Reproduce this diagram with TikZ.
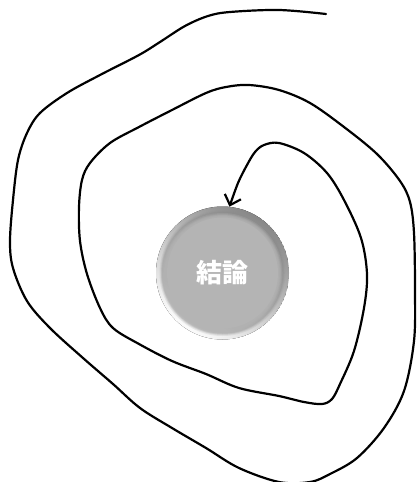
\documentclass[tikz,border=0pt]{standalone}
\usepackage{fontspec}
\newfontfamily\cjk{Noto Sans CJK JP}
\usetikzlibrary{arrows.meta}
\definecolor{ballgray}{RGB}{180,180,180}
\definecolor{rimdark}{RGB}{135,135,135}
\definecolor{rimlight}{RGB}{252,252,252}
\definecolor{rimring}{RGB}{140,140,140}
\tikzset{
  spiral/.style={line width=2.2pt, line cap=round, line join=round,
    -{Straight Barb[length=9pt,width=17pt]}},
  ball/.style={circle, minimum size=133pt, inner sep=0pt, text=white,
    font=\cjk\bfseries\fontsize{26}{26}\selectfont,
    path picture={
      \fill[top color=rimdark, bottom color=rimlight, shading angle=-35]
        (path picture bounding box.center) circle[radius=66.5pt];
      \foreach \r in {63,62,61.5,61,60.5}
        \fill[rimring, opacity=0.15]
          (path picture bounding box.center) circle[radius=\r pt];
      \foreach \r in {60,59,58.5,58,57.5,57,56.5,56}
        \fill[ballgray, opacity=0.25]
          (path picture bounding box.center) circle[radius=\r pt];
      \fill[ballgray] (path picture bounding box.center) circle[radius=55.5pt];
    }}
}
\begin{document}
\begin{tikzpicture}[x=1pt,y=-1pt]
\useasboundingbox (0,0) rectangle (416,482);
\node[ball] (concl) at (222.5,273) {結論};
\coordinate (start) at (326,14);
\draw[spiral] plot[smooth, tension=0.55] coordinates {
  (start) (279,10) (230,12) (208,16) (185,26) (160,42) (139,55) (100,75) (67,93)
  (40,113) (27,133) (18,160) (13,200) (10,241) (13,268) (27,301) (50,328)
  (83,358) (113,384) (140,408) (172,428) (206,448) (239,468) (279,482)
  (310,482) (330,474) (357,458) (384,428) (404,391) (414,341) (415,290)
  (414,233) (410,202) (400,181) (377,154) (344,127) (310,103) (279,90)
  (249,85) (226,87) (206,93) (172,110) (139,127) (110,143) (90,163)
  (82,180) (79,207) (80,241) (87,274) (100,308) (113,328) (139,344)
  (172,361) (206,374) (239,388) (279,396) (304,402) (322,404) (332,399)
  (340,384) (354,351) (364,308) (367,274) (361,238) (344,200) (327,173)
  (304,153) (279,143) (264,145) (255,152) (247,165) (238,183) (concl.84)
};
\end{tikzpicture}
\end{document}
